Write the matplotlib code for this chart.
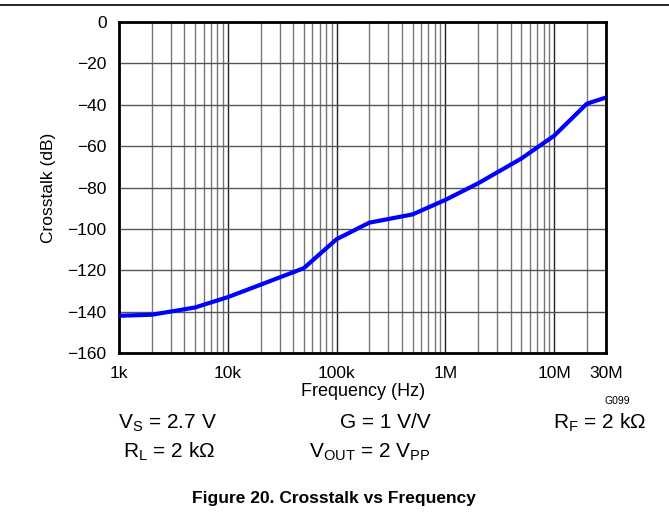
import numpy as np
import matplotlib.pyplot as plt
from matplotlib.ticker import FixedLocator, LogLocator, NullFormatter

plt.rcParams['font.family'] = ['Liberation Sans', 'DejaVu Sans']

# curve
freq_hz = [1e3, 2e3, 5e3, 1e4, 2e4, 5e4, 1e5, 2e5, 5e5, 1e6, 2e6, 5e6, 1e7, 2e7, 3e7]
crosstalk_db = [-142, -141.5, -138, -133, -127, -119, -105, -97, -93, -86, -78, -66, -55, -39.5, -36.5]

xtick_vals = [1e3, 1e4, 1e5, 1e6, 1e7, 3e7]
xtick_labels = ['1k', '10k', '100k', '1M', '10M', '30M']
ytick_vals = list(range(-160, 1, 20))

W, H = 669, 529
fig = plt.figure(figsize=(W / 100, H / 100), dpi=100)
ax = fig.add_axes([119 / W, 1 - 353 / H, 487 / W, 331 / H])

ax.plot(freq_hz, crosstalk_db, color='#0000ff', lw=3, zorder=5)
ax.set_xscale('log')
ax.set_xlim(1e3, 3e7)
ax.set_ylim(-160, 0)

ax.xaxis.set_major_locator(FixedLocator(xtick_vals))
ax.set_xticklabels(xtick_labels)
ax.xaxis.set_minor_locator(LogLocator(base=10, subs=np.arange(2, 10)))
ax.xaxis.set_minor_formatter(NullFormatter())
ax.set_yticks(ytick_vals)
ax.set_yticklabels([('\u2212%d' % -v) if v < 0 else '0' for v in ytick_vals])

ax.tick_params(which='both', length=0, labelsize=12.5)
ax.tick_params(axis='x', pad=9)
ax.tick_params(axis='y', pad=9)
ax.grid(which='major', axis='x', color='#222222', lw=1.0)
ax.grid(which='minor', axis='x', color='#777777', lw=1.0)
ax.grid(which='major', axis='y', color='#555555', lw=1.0)
for s in ax.spines.values():
    s.set_linewidth(2)

ax.set_xlabel('Frequency (Hz)', fontsize=13)
ax.xaxis.set_label_coords(0.502, (353 - 391) / 331)
ax.xaxis.label.set_va('center')
ax.set_ylabel('Crosstalk (dB)', fontsize=12.5)
ax.yaxis.set_label_coords((48 - 119) / 487, 0.5)
ax.yaxis.label.set_va('center')

fig.add_artist(plt.Line2D([0, 1], [1 - 5 / H, 1 - 5 / H], color='black', lw=1.2))

def note(x, y, s, size=15, **kw):
    fig.text(x / W, 1 - y / H, s, fontsize=size, ha='center', va='baseline', **kw)

note(167, 428, r'V$_\mathregular{S}$ = 2.7 V')
note(385, 428, 'G = 1 V/V')
note(600, 428, r'R$_\mathregular{F}$ = 2 kΩ')
note(169, 457, r'R$_\mathregular{L}$ = 2 kΩ')
note(370, 457, r'V$_\mathregular{OUT}$ = 2 V$_\mathregular{PP}$')
note(617, 404, 'G099', size=7.5)
fig.text(334 / W, 1 - 498 / H, 'Figure 20. Crosstalk vs Frequency', fontsize=12.5,
         fontweight='bold', ha='center', va='center')

fig.savefig('out.png', dpi=100)
